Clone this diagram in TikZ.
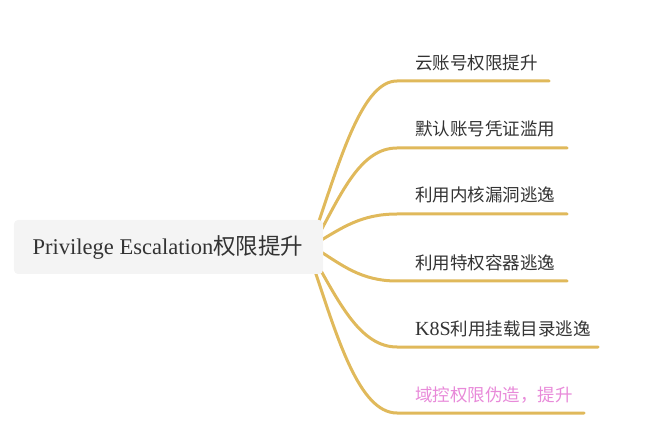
\documentclass[tikz,border=0pt]{standalone}
\usepackage{fontspec}
\setmainfont{Liberation Serif}
\newfontfamily\cjk{Noto Sans CJK SC}
\definecolor{branchc}{HTML}{E0B95B}
\definecolor{textc}{HTML}{333333}
\definecolor{pinkc}{HTML}{E88AD9}
\definecolor{rootfill}{HTML}{F4F4F4}
\begin{document}
\begin{tikzpicture}[x=1bp,y=-1bp,
  branch/.style={draw=branchc,line width=3bp,line cap=round},
  leaf/.style={anchor=west,inner sep=0pt,text=textc,font=\fontsize{17.5bp}{21bp}\selectfont},
  rootbox/.style={fill=rootfill,rounded corners=4bp,minimum width=309bp,minimum height=54bp,inner sep=0pt}]
\useasboundingbox (0,0) rectangle (662,446);
% start points (hidden behind the root box)
\coordinate (s1) at (316,230);
\coordinate (s2) at (318,236);
\coordinate (s3) at (318,242);
\coordinate (s4) at (318,250);
\coordinate (s5) at (316,262);
\coordinate (s6) at (312,262);
% bend points
\coordinate (e1) at (397,81);
\coordinate (e2) at (397,148);
\coordinate (e3) at (397,214);
\coordinate (e4) at (397,281);
\coordinate (e5) at (397,347);
\coordinate (e6) at (397,413);
% underline ends
\coordinate (f1) at (549,81);
\coordinate (f2) at (567,148);
\coordinate (f3) at (567,214);
\coordinate (f4) at (567,281);
\coordinate (f5) at (598,347);
\coordinate (f6) at (584,413);
\draw[branch] (s1) .. controls +(25,-74) and +(-34,0) .. (e1) -- (f1);
\draw[branch] (s2) .. controls +(24,-44) and +(-36,0) .. (e2) -- (f2);
\draw[branch] (s3) .. controls +(24,-14) and +(-36,0) .. (e3) -- (f3);
\draw[branch] (s4) .. controls +(24,15) and +(-36,0) .. (e4) -- (f4);
\draw[branch] (s5) .. controls +(24,42) and +(-36,0) .. (e5) -- (f5);
\draw[branch] (s6) .. controls +(25,75) and +(-38,0) .. (e6) -- (f6);
% root
\node[rootbox] (root) at (168.5,247) {};
\node[text=textc,font=\fontsize{22.5bp}{27bp}\selectfont,inner sep=0pt] (roottext) at (168,247) {Privilege Escalation{\cjk 权限提升}};
% leaves
\node[leaf] (t1) at (415,63) {\cjk 云账号权限提升};
\node[leaf] (t2) at (415,129) {\cjk 默认账号凭证滥用};
\node[leaf] (t3) at (415,195) {\cjk 利用内核漏洞逃逸};
\node[leaf] (t4) at (415,263) {\cjk 利用特权容器逃逸};
\node[leaf] (t5) at (415,329) {{\fontsize{20bp}{21bp}\selectfont K8S}{\cjk 利用挂载目录逃逸}};
\node[leaf,text=pinkc] (t6) at (415,395) {\cjk 域控权限伪造，提升};
\end{tikzpicture}
\end{document}
